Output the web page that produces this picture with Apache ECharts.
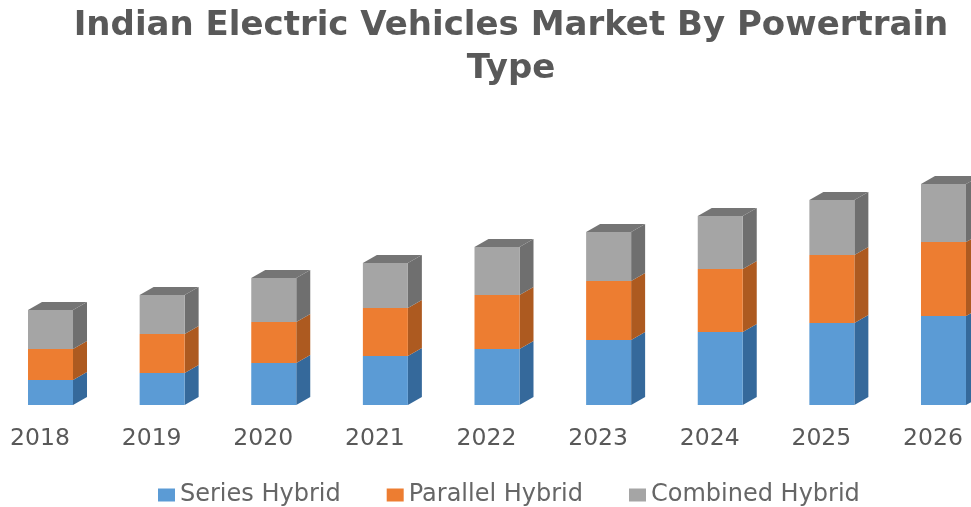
<!DOCTYPE html>
<html><head><meta charset="utf-8">
<style>html,body{margin:0;padding:0;background:#fff;overflow:hidden}#c{width:971px;height:507px;filter:blur(0.6px)}</style>
<script src="https://cdn.jsdelivr.net/npm/echarts@6/dist/echarts.min.js"></script>
</head><body><div id="c"></div>
<script>
const categories = ['2018','2019','2020','2021','2022','2023','2024','2025','2026'];
const seriesHybrid   = [25,32,42,49,56,65,73,82,89];
const parallelHybrid = [31,39,41,48,54,59,63,68,74];
const combinedHybrid = [39,39,44,45,48,49,53,55,58];
const seriesNames = ['Series Hybrid','Parallel Hybrid','Combined Hybrid'];
const frontColors = ['#5b9bd5','#ed7d31','#a5a5a5'];
const sideColors  = ['#35699b','#ad5a20','#6f6f6f'];
const topColor = '#757575';
const FRONT_W = 45, DX = 14, DY = 8, OFF = 10.5;

const layers = [seriesHybrid, parallelHybrid, combinedHybrid];
const cum = categories.map(() => 0);
const series = layers.map((vals, s) => {
  const data = vals.map((v, i) => { const b = cum[i]; cum[i] += v; return [i, b, cum[i]]; });
  return {
    type: 'custom', name: seriesNames[s], data, z: 2 + s, clip: false,
    encode: {x: 0, y: [1, 2]},
    itemStyle: {color: frontColors[s]},
    renderItem(params, api) {
      const p0 = api.coord([api.value(0), api.value(1)]);
      const p1 = api.coord([api.value(0), api.value(2)]);
      const l = p0[0] + OFF - FRONT_W / 2, r = l + FRONT_W, yb = p0[1], yt = p1[1];
      const children = [
        {type: 'polygon', shape: {points: [[r, yb], [r + DX, yb - DY], [r + DX, yt - DY], [r, yt]]}, style: {fill: sideColors[s]}},
        {type: 'rect', shape: {x: l, y: yt, width: FRONT_W, height: yb - yt}, style: {fill: frontColors[s]}}
      ];
      if (s === 2) children.push({type: 'polygon', shape: {points: [[l, yt], [l + DX, yt - DY], [r + DX, yt - DY], [r, yt]]}, style: {fill: topColor}});
      return {type: 'group', children};
    }
  };
});

const chart = echarts.init(document.getElementById('c'), null, {renderer: 'canvas'});
chart.setOption({
  animation: false,
  backgroundColor: '#fff',
  title: {
    text: 'Indian Electric Vehicles Market By Powertrain\nType',
    left: 506, top: 0, textAlign: 'center',
    textStyle: {fontFamily: 'DejaVu Sans', fontWeight: 'bold', fontSize: 34, lineHeight: 43, color: '#595959'}
  },
  legend: {
    left: 158, top: 483, itemWidth: 17, itemHeight: 13, itemGap: 46, padding: 0, icon: 'rect',
    data: seriesNames,
    textStyle: {fontFamily: 'DejaVu Sans', fontSize: 24, color: '#666666'}
  },
  grid: {left: -15.8, width: 1004.6, top: 0, height: 405, outerBoundsMode: 'none'},
  xAxis: {
    type: 'category', data: categories,
    axisLine: {show: false}, axisTick: {show: false},
    axisLabel: {fontFamily: 'DejaVu Sans', fontSize: 23.5, color: '#595959', margin: 22}
  },
  yAxis: {type: 'value', min: 0, max: 405, show: false, splitLine: {show: false}},
  series
});
</script></body></html>
